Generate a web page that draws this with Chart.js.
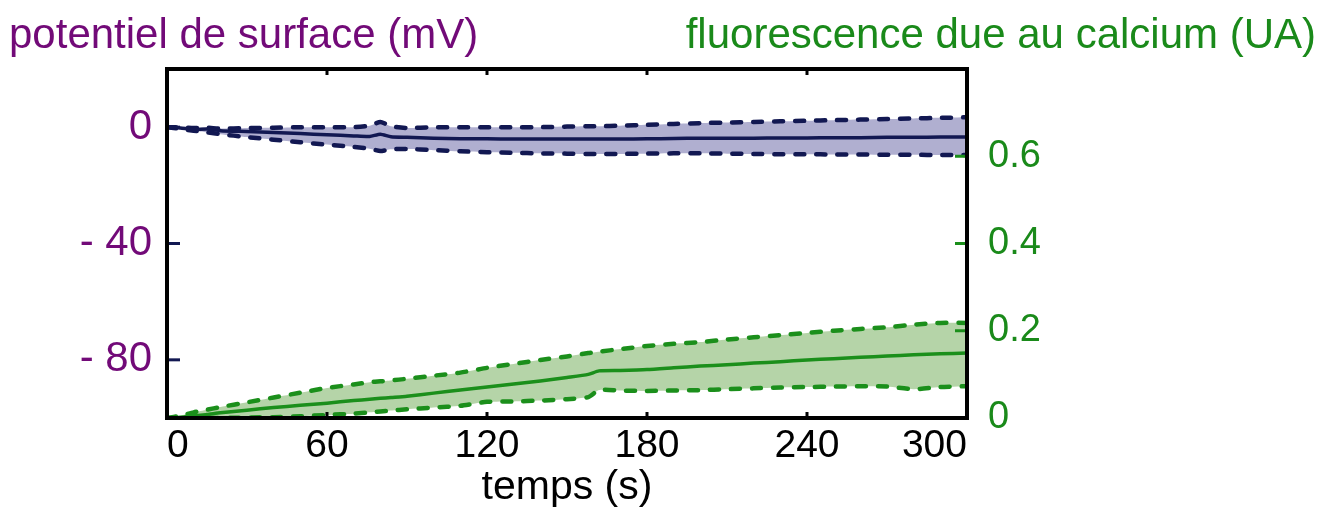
<!DOCTYPE html>
<html>
<head>
<meta charset="utf-8">
<script src="https://cdn.jsdelivr.net/npm/chart.js@4/dist/chart.umd.min.js"></script>
<style>
  body { margin: 0; background: #fff; }
  #wrap { position: relative; width: 1326px; height: 512px; }
  .ttl { position: absolute; top: 10px; font-family: "Liberation Sans", Arial, sans-serif; font-size: 42px; line-height: 48px; white-space: nowrap; }
  #ttlLeft { left: 9px; color: #720a78; }
  #ttlRight { right: 10px; color: #1a8a1a; }
</style>
</head>
<body>
<div id="wrap">
  <canvas id="chart" width="1326" height="512"></canvas>
  <div class="ttl" id="ttlLeft">potentiel de surface (mV)</div>
  <div class="ttl" id="ttlRight">fluorescence due au calcium (UA)</div>
</div>
<script>
// time points (s)
const times = [0, 5, 10, 15, 20, 30, 40, 50, 60, 70, 76, 80, 84, 90, 100, 110, 120, 130, 140, 150,
  158, 162, 170, 180, 190, 200, 210, 220, 230, 240, 250, 260, 270, 280, 290, 300];

// surface potential (mV): mean and envelope
const potMean = [0, -0.3, -0.8, -0.6, -1.2, -1.5, -1.8, -2.2, -2.6, -3.0, -3.2, -2.4, -3.3, -3.5, -3.8, -4.0, -4.0, -4.1,
  -4.1, -4.1, -4.1, -4.1, -4.1, -4.0, -3.9, -3.8, -3.8, -3.8, -3.7, -3.7, -3.6, -3.6, -3.5, -3.5, -3.4, -3.4];
const potUpper = [0, 0, -0.3, -0.2, -0.5, -0.3, -0.2, 0, 0, 0, 0.5, 1.8, 0.3, -0.3, 0, 0, 0, 0,
  0, 0.2, 0.3, 0.3, 0.5, 0.8, 1.1, 1.4, 1.6, 1.8, 2.0, 2.2, 2.4, 2.6, 2.8, 3.0, 3.2, 3.4];
const potLower = [0, -0.6, -1.2, -1.8, -2.4, -3.4, -4.3, -5.2, -6.0, -6.8, -7.4, -8.2, -7.6, -7.5, -7.9, -8.3, -8.6, -8.8,
  -9.0, -9.1, -9.2, -9.2, -9.2, -9.1, -9.0, -9.0, -9.1, -9.2, -9.3, -9.3, -9.4, -9.4, -9.5, -9.5, -9.6, -9.6];

// calcium fluorescence (UA): mean and envelope
const fluoMean = [0, 0.002, 0.005, 0.008, 0.012, 0.018, 0.024, 0.029, 0.034, 0.040, 0.043, 0.045, 0.047, 0.050, 0.057, 0.064,
  0.071, 0.078, 0.085, 0.093, 0.100, 0.108, 0.109, 0.111, 0.115, 0.119, 0.122, 0.126, 0.129, 0.133, 0.136, 0.139, 0.142, 0.145, 0.147, 0.149];
const fluoUpper = [0, 0.005, 0.013, 0.019, 0.025, 0.036, 0.047, 0.058, 0.069, 0.077, 0.082, 0.084, 0.086, 0.090, 0.097, 0.104,
  0.115, 0.124, 0.133, 0.141, 0.149, 0.152, 0.158, 0.165, 0.170, 0.174, 0.180, 0.185, 0.190, 0.195, 0.200, 0.204, 0.208, 0.214, 0.218, 0.218];
const fluoLower = [0, 0, 0, 0, 0, 0.001, 0.002, 0.004, 0.007, 0.010, 0.013, 0.015, 0.017, 0.020, 0.024, 0.028,
  0.037, 0.038, 0.040, 0.043, 0.048, 0.064, 0.063, 0.062, 0.063, 0.064, 0.066, 0.068, 0.070, 0.071, 0.072, 0.073, 0.072, 0.066, 0.071, 0.073];

// axis ticks
const xTicks = [0, 60, 120, 180, 240, 300];
const yLeftTicks = [-80, -40, 0];
const yRightTicks = [0, 0.2, 0.4, 0.6];
const yRightMarks = [0, 0.2, 0.4, 0.6, 0.8];

const NAVY = '#121852';
const LAVENDER = 'rgba(150, 148, 192, 0.75)';
const GREEN = '#1b8f1b';
const PALEGREEN = 'rgba(163, 201, 146, 0.8)';
const PURPLE = '#720a78';
const GREENTXT = '#1a8a1a';
const FONT = '"Liberation Sans", Arial, sans-serif';

function pts(arr) {
  return arr.map((v, i) => ({ x: times[i], y: v }));
}

// border + inward tick marks
const framePlugin = {
  id: 'frame',
  afterDraw(chart) {
    const { ctx, chartArea: a, scales } = chart;
    ctx.save();
    ctx.lineCap = 'butt';
    // x ticks top and bottom
    ctx.strokeStyle = '#000';
    ctx.lineWidth = 3;
    xTicks.slice(1, -1).forEach(v => {
      const px = scales.x.getPixelForValue(v);
      ctx.beginPath();
      ctx.moveTo(px, a.bottom); ctx.lineTo(px, a.bottom - 6);
      ctx.moveTo(px, a.top); ctx.lineTo(px, a.top + 6);
      ctx.stroke();
    });
    // left ticks
    ctx.strokeStyle = NAVY;
    yLeftTicks.forEach(v => {
      const py = scales.y.getPixelForValue(v);
      ctx.beginPath();
      ctx.moveTo(a.left, py); ctx.lineTo(a.left + 13, py);
      ctx.stroke();
    });
    // right ticks
    ctx.strokeStyle = GREEN;
    yRightMarks.forEach(v => {
      const py = scales.y1.getPixelForValue(v);
      ctx.beginPath();
      ctx.moveTo(a.right, py); ctx.lineTo(a.right - 12, py);
      ctx.stroke();
    });
    // frame
    ctx.strokeStyle = '#000';
    ctx.lineWidth = 4;
    ctx.strokeRect(a.left, a.top, a.right - a.left, a.bottom - a.top);
    ctx.restore();
  }
};

const dashed = { borderWidth: 4.5, borderDash: [9, 12], borderCapStyle: 'round' };

new Chart(document.getElementById('chart'), {
  type: 'line',
  data: {
    datasets: [
      { data: pts(potMean), yAxisID: 'y', borderColor: NAVY, borderWidth: 3.5, fill: false, order: 1 },
      { data: pts(potUpper), yAxisID: 'y', borderColor: NAVY, ...dashed, fill: false, order: 2 },
      { data: pts(potLower), yAxisID: 'y', borderColor: NAVY, ...dashed, backgroundColor: LAVENDER, fill: '-1', order: 2 },
      { data: pts(fluoMean), yAxisID: 'y1', borderColor: GREEN, borderWidth: 3.5, fill: false, order: 1 },
      { data: pts(fluoUpper), yAxisID: 'y1', borderColor: GREEN, ...dashed, fill: false, order: 2 },
      { data: pts(fluoLower), yAxisID: 'y1', borderColor: GREEN, ...dashed, backgroundColor: PALEGREEN, fill: '-1', order: 2 }
    ]
  },
  options: {
    responsive: false,
    animation: false,
    events: [],
    elements: { point: { radius: 0 }, line: { tension: 0.2 } },
    layout: { padding: { top: 69, left: 0, right: 0, bottom: 0 } },
    plugins: { legend: { display: false }, tooltip: { enabled: false } },
    scales: {
      x: {
        type: 'linear', min: 0, max: 300,
        afterBuildTicks: s => { s.ticks = xTicks.map(v => ({ value: v })); },
        afterFit: s => { s.height = 512 - 418; },
        grid: { display: false }, border: { display: false },
        ticks: { color: '#000', font: { family: FONT, size: 39 }, padding: -3, align: 'inner', maxRotation: 0 },
        title: { display: true, text: 'temps (s)', color: '#000', font: { family: FONT, size: 41 }, padding: { top: 0, bottom: 0 } }
      },
      y: {
        position: 'left', min: -100, max: 20,
        afterBuildTicks: s => { s.ticks = yLeftTicks.map(v => ({ value: v })); },
        afterFit: s => { s.width = 167; },
        grid: { display: false }, border: { display: false },
        ticks: { color: PURPLE, font: { family: FONT, size: 42 }, padding: 7,
          callback: v => v < 0 ? '- ' + Math.abs(v) : String(v) }
      },
      y1: {
        position: 'right', min: 0, max: 0.8,
        afterBuildTicks: s => { s.ticks = yRightTicks.map(v => ({ value: v })); },
        afterFit: s => { s.width = 1326 - 967; },
        grid: { display: false }, border: { display: false },
        ticks: { color: GREENTXT, font: { family: FONT, size: 38 }, padding: 13,
          callback: v => v === 0 ? '0' : v.toFixed(1) }
      }
    }
  },
  plugins: [framePlugin]
});
</script>
</body>
</html>
